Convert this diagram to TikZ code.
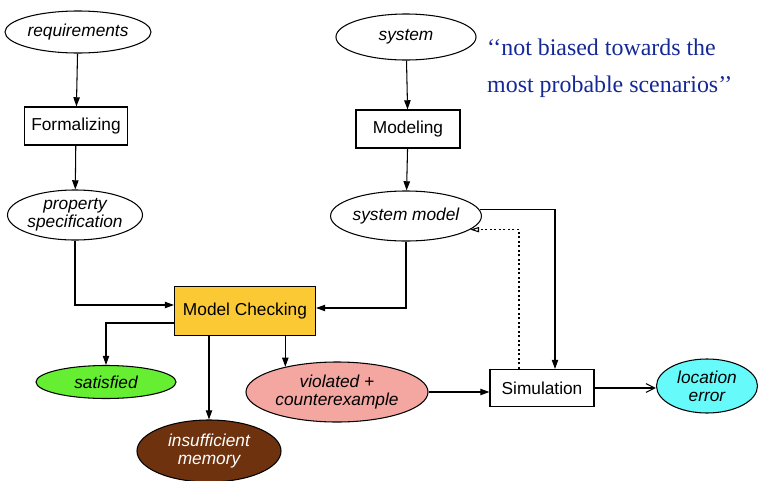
\documentclass[tikz,border=0pt]{standalone}
\usepackage{fontspec}
\setmainfont{Liberation Serif}
\setsansfont{Liberation Sans}
\usetikzlibrary{shapes.geometric,arrows.meta,calc}
\definecolor{mcyellow}{RGB}{251,201,51}
\definecolor{satgreen}{RGB}{102,238,51}
\definecolor{membrown}{RGB}{110,50,15}
\definecolor{violpink}{RGB}{244,166,160}
\definecolor{loccyan}{RGB}{102,250,250}
\definecolor{quoteblue}{RGB}{20,40,150}
\begin{document}
\begin{tikzpicture}[x=0.025cm, y=-0.025cm, line width=0.75pt,
  oval node/.style={ellipse,draw,inner sep=0pt,align=center,font=\sffamily\itshape\fontsize{12.3}{13}\selectfont},
  box node/.style={rectangle,draw,inner sep=0pt,font=\sffamily\fontsize{12.3}{13}\selectfont},
  arr/.style={-{Triangle[length=0.23cm,width=0.16cm]}},
  openarr/.style={-{Straight Barb[length=0.22cm,width=0.22cm]}},
  backarr/.style={dash pattern=on 1.6pt off 1.6pt,-{Triangle[open,length=0.22cm,width=0.13cm]}}]
\useasboundingbox (0,0) rectangle (759,481);
% left column
\node[oval node,minimum width=3.65cm,minimum height=1.05cm] (req) at (78,32) {requirements};
\node[box node,minimum width=2.575cm,minimum height=0.95cm] (form) at (76,126) {Formalizing};
\node[oval node,minimum width=3.375cm,minimum height=1.25cm] (prop) at (75,215) {property\\specification};
% right column
\node[oval node,minimum width=3.5cm,minimum height=1.15cm] (sys) at (406,37) {system};
\node[box node,minimum width=2.6cm,minimum height=0.95cm] (model) at (408,129) {Modeling};
\node[oval node,minimum width=3.575cm,minimum height=1.25cm] (smodel) at (406,216) {system model};
\node[anchor=west,align=left,text=quoteblue,font=\fontsize{17}{26}\selectfont] (quote) at (482,68) {‘‘not biased towards the\\most probable scenarios’’};
% checking and results
\node[box node,fill=mcyellow,minimum width=3.525cm,minimum height=1.225cm] (mc) at (245,311) {Model Checking};
\node[oval node,fill=satgreen,minimum width=3.5cm,minimum height=0.825cm] (sat) at (106,382) {satisfied};
\node[oval node,fill=membrown,text=white,minimum width=3.6cm,minimum height=1.55cm] (insuf) at (209,451) {insufficient\\memory};
\node[oval node,fill=violpink,minimum width=4.55cm,minimum height=1.5cm] (viol) at (337,392) {violated +\\counterexample};
\node[box node,minimum width=2.6cm,minimum height=0.925cm] (sim) at (542,388) {Simulation};
\node[oval node,fill=loccyan,minimum width=2.525cm,minimum height=1.35cm] (loc) at (707,386) {location\\error};
% connectors
\draw[arr] (req) -- (form);
\draw[arr] (form) -- (prop);
\draw[arr] (sys) -- (model);
\draw[arr] (model) -- (smodel);
\draw[arr] (prop.south) |- ($(mc.west)+(0,-6)$);
\draw[arr] (smodel.south) |- ($(mc.east)+(0,-3)$);
\draw[arr] ($(mc.west)+(0,12)$) -| (sat.north);
\draw[arr] (mc.south -| insuf.north) -- (insuf.north);
\draw[arr] (mc.south -| viol.154) -- (viol.154);
\draw[arr] (viol.east) -- (viol.east -| sim.west);
\draw[openarr] (sim.east) -- (sim.east -| loc.west);
\draw[arr] (smodel.5) -| ($(sim.north)+(13,0)$);
\draw[backarr] ($(sim.north)+(-23,0)$) |- (smodel.-12);
\end{tikzpicture}
\end{document}
